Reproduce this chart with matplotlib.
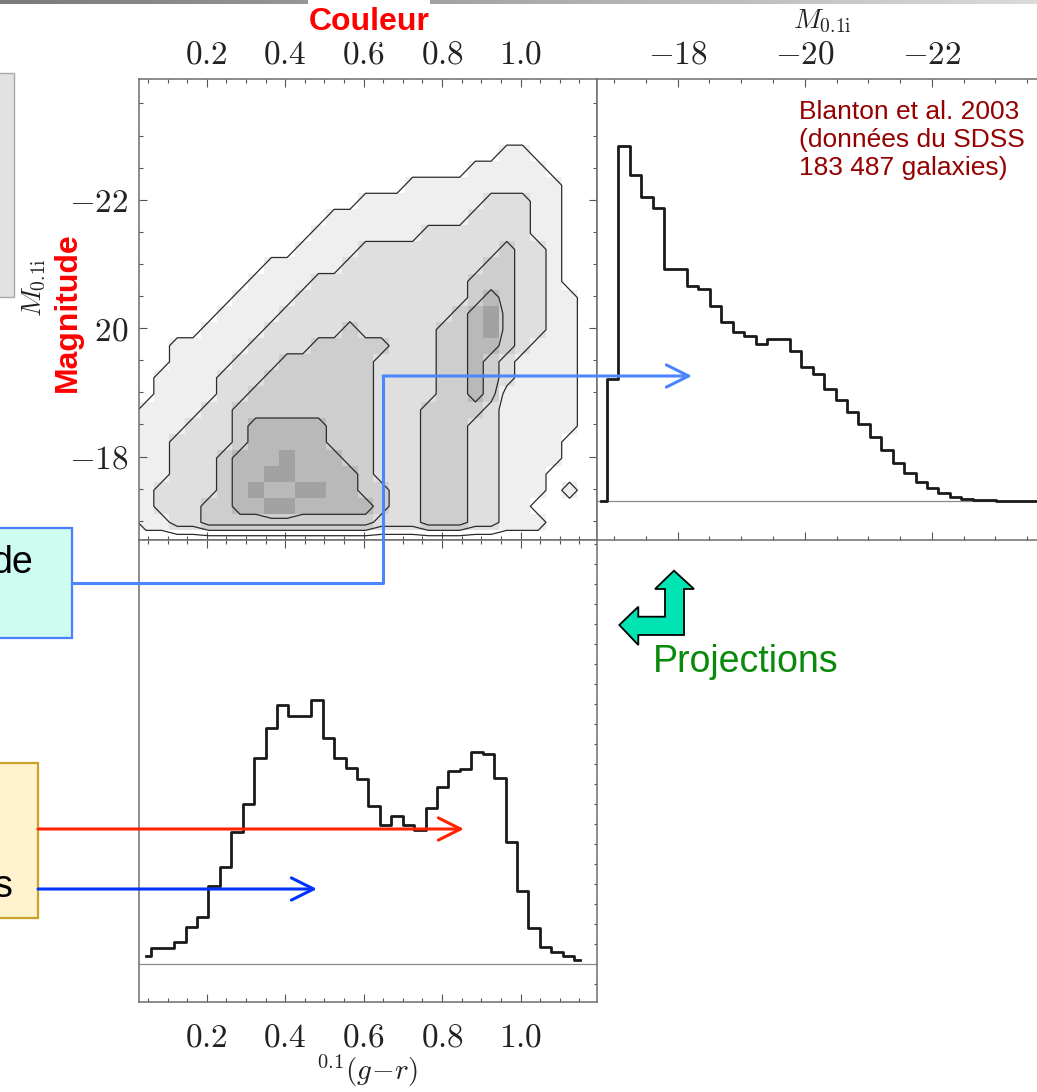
import numpy as np
import matplotlib
matplotlib.use("Agg")
import matplotlib.pyplot as plt
from matplotlib.colors import ListedColormap, BoundaryNorm, LinearSegmentedColormap
from matplotlib.patches import Rectangle, Polygon, FancyArrowPatch
from matplotlib.lines import Line2D
from matplotlib.ticker import MultipleLocator

plt.rcParams["mathtext.fontset"] = "cm"
plt.rcParams["font.family"] = ["Liberation Sans", "DejaVu Sans"]

W, H = 1037, 1092

# ---------------- data ----------------
# colour-magnitude density levels, read from the grey map
# rows: faint (M=-16.975) to bright, step 0.25 mag ; columns: colour 0.045 .. 1.165, step 0.04
density_rows = [
    "11223333333333322233322111000",
    "12223344554444432233322110000",
    "12222345445544332233322111010",
    "11222344554444322233322111000",
    "11222344454443322233322111100",
    "11222234444433322233322111100",
    "11122234444433322233322111110",
    "11112233333333322233332111110",
    "01111223333333322223343111110",
    "01111222333333322223343211110",
    "00111122233333322223343211110",
    "00111112222333332223344321110",
    "00001111222223222223345322110",
    "00000111122222222222345322110",
    "00000011112222222222234322110",
    "00000001111222222222233322100",
    "00000000111112222222223322100",
    "00000000001111222222222322100",
    "00000000000111111122222221100",
    "00000000000011111111122221100",
    "00000000000000111111112221100",
    "00000000000000000111111111100",
    "00000000000000000000011111000",
    "00000000000000000000000110000",
]
density_color_start = 0.025
density_color_step = 0.04
density_mag_start = -16.85
density_mag_step = -0.25
density_contour_levels = [0.5, 1.5, 2.5, 3.5]
density_shades = ["#ffffff", "#efefef", "#dfdfdf", "#cecece", "#b9b9b9", "#a2a2a2"]

# magnitude projection (arbitrary count units)
mag_first_center = -16.795
mag_bin_width = -0.18
mag_counts = [0, 366, 1066, 978, 913, 878, 695, 695, 645, 635, 585, 538, 508, 495,
              470, 486, 486, 450, 403, 380, 335, 303, 268, 230, 193, 153, 113, 83,
              58, 38, 23, 13, 6, 3, 2, 1, 1, 1, 1, 1]

# colour projection (arbitrary count units)
color_first_center = 0.0439
color_bin_width = 0.02914
color_counts = [24, 47, 47, 67, 110, 140, 235, 292, 395, 479, 617, 707, 777, 745,
                745, 792, 677, 617, 589, 554, 475, 417, 445, 417, 402, 469, 532, 579,
                584, 636, 630, 557, 367, 220, 109, 50, 37, 24, 12]

color_ticks = [0.2, 0.4, 0.6, 0.8, 1.0]
color_tick_labels = [r"$0.2$", r"$0.4$", r"$0.6$", r"$0.8$", r"$1.0$"]
mag_ticks = [-18, -20, -22]
mag_tick_labels = [r"$-18$", r"$-20$", r"$-22$"]

# ---------------- figure ----------------
fig = plt.figure(figsize=(W / 100, H / 100), dpi=100)


def box(x0, y0, x1, y1):
    return [x0 / W, 1 - y1 / H, (x1 - x0) / W, (y1 - y0) / H]


def P(x, y):
    return (x / W, 1 - y / H)


ax_cm = fig.add_axes(box(138.5, 79, 597, 540))
ax_mag = fig.add_axes(box(597, 79, 1050, 540))
ax_col = fig.add_axes(box(138.5, 540, 597, 1001.7))

spine_col = "#6e6e6e"
tick_col = "#555555"
for ax in (ax_cm, ax_mag, ax_col):
    for s in ax.spines.values():
        s.set_color(spine_col)
        s.set_linewidth(1.1)
    ax.tick_params(which="both", direction="in", colors=tick_col, width=0.8,
                   labelcolor="#222222")
    ax.tick_params(which="major", length=5.8, labelsize=24)
    ax.tick_params(which="minor", length=2.9)

# density map
grid = np.array([[int(ch) for ch in r] for r in density_rows], dtype=float)
nr, nc = grid.shape
c_edges = density_color_start + density_color_step * np.arange(nc + 1)
m_edges = density_mag_start + density_mag_step * np.arange(nr + 1)
cmap = ListedColormap(density_shades)
norm = BoundaryNorm(np.arange(len(density_shades) + 1) - 0.5, cmap.N)
ax_cm.pcolormesh(c_edges, m_edges, grid, cmap=cmap, norm=norm, shading="flat",
                 edgecolors="none", antialiased=False)
c_pad = np.concatenate(([c_edges[0] - density_color_step / 2],
                        0.5 * (c_edges[1:] + c_edges[:-1]),
                        [c_edges[-1] + density_color_step / 2]))
m_pad = np.concatenate(([m_edges[0] - density_mag_step / 2],
                        0.5 * (m_edges[1:] + m_edges[:-1]),
                        [m_edges[-1] + density_mag_step / 2]))
ax_cm.contour(c_pad, m_pad, np.pad(grid, 1), levels=density_contour_levels,
              colors="#2b2b2b", linewidths=0.9)
ax_cm.set_xlim(0.026, 1.195)
ax_cm.set_ylim(-16.70, -23.88)
ax_cm.set_xticks(color_ticks)
ax_cm.set_xticklabels(color_tick_labels)
ax_cm.set_yticks(mag_ticks)
ax_cm.set_yticklabels(mag_tick_labels)
ax_cm.xaxis.set_minor_locator(MultipleLocator(0.05))
ax_cm.yaxis.set_minor_locator(MultipleLocator(0.5))
ax_cm.tick_params(which="both", top=True, bottom=True, left=True, right=True,
                  labeltop=True, labelbottom=False, labelleft=True)
ax_cm.tick_params(axis="x", which="major", pad=6)
ax_cm.tick_params(axis="y", which="major", pad=7)

# magnitude histogram
mag_centers = mag_first_center + mag_bin_width * np.arange(len(mag_counts))
ax_mag.axhline(0, color="#8c8c8c", lw=0.9)
ax_mag.step(mag_centers, mag_counts, where="mid", color="#1a1a1a", lw=2.0)
ax_mag.set_xlim(-16.73, -23.86)
ax_mag.set_ylim(-117, 1266)
ax_mag.set_xticks(mag_ticks)
ax_mag.set_xticklabels(mag_tick_labels)
ax_mag.xaxis.set_minor_locator(MultipleLocator(0.5))
ax_mag.set_yticks([])
ax_mag.tick_params(axis="x", which="both", top=True, bottom=True, labeltop=True,
                   labelbottom=False)
ax_mag.tick_params(axis="x", which="major", pad=6)

# colour histogram
color_centers = color_first_center + color_bin_width * np.arange(len(color_counts))
ax_col.axhline(0, color="#8c8c8c", lw=0.9)
ax_col.step(color_centers, color_counts, where="mid", color="#1a1a1a", lw=2.0)
ax_col.set_xlim(0.026, 1.195)
ax_col.set_ylim(-113, 1272)
ax_col.set_xticks(color_ticks)
ax_col.set_xticklabels(color_tick_labels)
ax_col.xaxis.set_minor_locator(MultipleLocator(0.05))
ax_col.yaxis.set_major_locator(MultipleLocator(60))
ax_col.tick_params(axis="x", which="both", top=True, bottom=True, labeltop=False,
                   labelbottom=True)
ax_col.tick_params(axis="x", which="major", pad=15)
ax_col.tick_params(axis="y", which="both", left=False, right=True, labelleft=False,
                   length=2.5)

# axis titles
fig.text(*P(367, 1071), r"$^{0.1}(g\!-\!r)$", fontsize=21, ha="center", va="center",
         color="#222222")
fig.text(*P(822, 21), r"$M_{0.1\mathrm{i}}$", fontsize=20, ha="center", va="center",
         color="#222222")
fig.text(*P(34, 288), r"$M_{0.1\mathrm{i}}$", fontsize=20, ha="center", va="center",
         rotation=90, color="#222222")

# ---------------- slide decorations ----------------
axg = fig.add_axes(box(0, 0, W, 4))
axg.imshow(np.linspace(0, 1, 256)[None, :], aspect="auto",
           cmap=LinearSegmentedColormap.from_list("bar", ["#7a7a7a", "#dadada"]))
axg.axis("off")


def rect(x0, y0, x1, y1, **kw):
    r = Rectangle(P(x0, y1), (x1 - x0) / W, (y1 - y0) / H, transform=fig.transFigure, **kw)
    fig.add_artist(r)
    return r


rect(308, 0, 430, 42, facecolor="white", edgecolor="none", zorder=5)
rect(44, 228, 95, 398, facecolor="white", edgecolor="none", zorder=5)
rect(-2, 73, 14, 297, facecolor="#e2e2e2", edgecolor="#a8a8a8", lw=1.0, zorder=5)
rect(-2, 528, 72, 638, facecolor="#cdfcf1", edgecolor="#4a7fff", lw=1.6, zorder=5)
rect(-2, 763, 38, 918, facecolor="#fff3cf", edgecolor="#c9a227", lw=1.6, zorder=5)

fig.text(*P(369, 22), "Couleur", color="#ff0000", fontsize=23, fontweight="bold",
         ha="center", va="center", zorder=6)
fig.text(*P(68, 312), "Magnitude", color="#ff0000", fontsize=23, fontweight="bold",
         ha="center", va="center", rotation=90, zorder=6)
fig.text(*P(33, 563), "de", color="black", fontsize=27, ha="right", va="center", zorder=6)
fig.text(*P(13, 887), "s", color="black", fontsize=27, ha="right", va="center", zorder=6)
fig.text(*P(799, 140), "Blanton et al. 2003\n(données du SDSS\n183 487 galaxies)",
         color="#960000", fontsize=19, ha="left", va="center", linespacing=1.2, zorder=6)
fig.text(*P(653, 662), "Projections", color="#0a8a0a", fontsize=27, ha="left",
         va="center", zorder=6)

# arrows
fig.add_artist(Line2D([72 / W, 383 / W, 383 / W], [1 - 583 / H, 1 - 583 / H, 1 - 376 / H],
                      transform=fig.transFigure, color="#4a86ff", lw=2.2, zorder=7))


def arrow(p0, p1, color):
    a = FancyArrowPatch(P(*p0), P(*p1), transform=fig.transFigure,
                        arrowstyle="->,head_length=1.6,head_width=0.8", mutation_scale=10,
                        color=color, lw=2.2, shrinkA=0, shrinkB=0, zorder=7)
    fig.add_artist(a)


arrow((383, 376), (692, 376), "#4a86ff")
arrow((38, 829), (464, 829), "#ff2200")
arrow((38, 889), (317, 889), "#0033ff")

green_pts = [(674, 570.7), (694, 589), (684, 589), (684, 635), (638.3, 635), (638.3, 645),
             (619.3, 625), (638.3, 606.7), (638.3, 616.7), (665, 616.7), (665, 589), (655, 589)]
fig.add_artist(Polygon([P(x, y) for x, y in green_pts], closed=True,
                       transform=fig.transFigure, facecolor="#00e3b2",
                       edgecolor="black", lw=1.3, zorder=7))

fig.savefig("out.png", dpi=100)
